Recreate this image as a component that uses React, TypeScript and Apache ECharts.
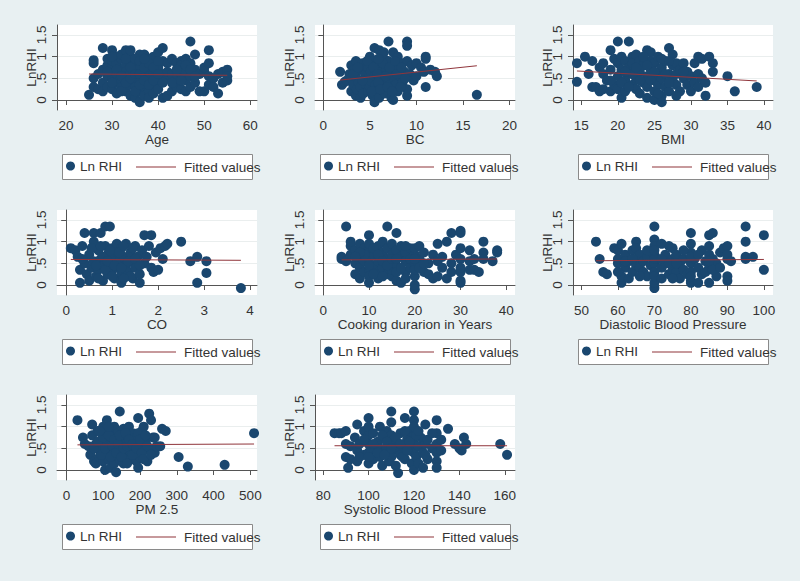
import React, { useEffect, useRef } from "react";
import * as echarts from "echarts";

const yTicks = [0, 0.5, 1, 1.5];
const yLabelText = ["0", ".5", "1", "1.5"];

const ageTicks = [20, 30, 40, 50, 60];
const bcTicks = [0, 5, 10, 15, 20];
const bmiTicks = [15, 20, 25, 30, 35, 40];
const coTicks = [0, 1, 2, 3, 4];
const cookTicks = [0, 10, 20, 30, 40];
const diaTicks = [50, 60, 70, 80, 90, 100];
const pmTicks = [0, 100, 200, 300, 400, 500];
const sysTicks = [80, 100, 120, 140, 160];

const ageData = [[25,0.12],[26,0.85],[26,0.92],[26,0.5],[26,0.3],[27,0.25],[27,0.6],[28,1.2],[28,0.7],[28,0.4],[28,0.2],[29,0.55],[29,0.8],[29,0.3],[29,0.95],[30,1.15],[30,0.75],[30,0.5],[30,0.25],[30,0.9],[31,1.0],[31,0.6],[31,0.4],[31,0.15],[31,0.85],[32,0.95],[32,0.7],[32,0.45],[32,0.3],[32,1.05],[33,1.15],[33,0.8],[33,0.55],[33,0.2],[33,0.65],[34,1.0],[34,0.6],[34,0.35],[34,0.1],[34,0.85],[35,0.05],[35,0.9],[35,0.5],[35,0.3],[35,0.7],[36,-0.05],[36,1.05],[36,0.75],[36,0.45],[36,0.2],[37,0.85],[37,0.6],[37,0.3],[37,0.1],[37,1.05],[38,0.95],[38,0.5],[38,0.2],[38,0.7],[38,0.05],[39,0.85],[39,0.6],[39,0.35],[39,0.15],[39,1.0],[40,1.1],[40,0.75],[40,0.45],[40,0.25],[41,1.2],[41,0.05],[41,0.6],[41,0.9],[42,0.1],[42,0.5],[42,0.85],[42,0.65],[43,0.2],[43,0.6],[43,0.95],[44,0.85],[44,0.5],[44,0.3],[45,0.9],[45,0.6],[45,0.25],[45,0.8],[46,0.95],[46,0.45],[46,0.2],[46,0.65],[47,1.35],[47,0.85],[47,0.55],[47,0.3],[48,1.05],[48,0.7],[48,0.4],[49,0.2],[49,0.6],[50,0.2],[50,0.65],[50,0.75],[51,1.15],[51,0.85],[51,0.35],[51,0.55],[52,0.5],[52,0.3],[53,0.15],[53,0.6],[54,0.4],[54,0.65],[55,0.7],[55,0.45],[55,0.55],
  [29,0.65],[30,0.4],[31,0.7],[32,0.2],[32,0.55],[33,0.4],[33,0.95],[34,0.5],[34,0.75],[35,0.2],[35,0.6],[35,0.95],[36,0.6],[36,0.35],[36,0.9],[37,0.45],[37,0.75],[38,0.35],[38,0.85],[39,0.45],[39,0.75],[40,0.6],[40,0.9],[41,0.4],[43,0.4],[44,0.7],[45,0.45],[46,0.8],[47,0.7],[48,0.55],[30,1.0],[34,1.15],[37,0.95]];

const bcData = [[1.8,0.65],[2,0.35],[2.3,0.42],[2.5,0.45],[2.8,0.6],[3,0.8],[3,0.2],[3,0.5],[3.2,0.35],[3.3,0.7],[3.5,0.9],[3.5,0.1],[3.5,0.55],[3.6,0.25],[3.8,0.4],[4,0.05],[4,0.7],[4,0.3],[4.2,0.85],[4.3,0.15],[4.5,0.5],[4.5,0.6],[4.6,0.35],[4.8,0.75],[4.8,0.2],[5,1.0],[5,0.3],[5,0.45],[5.1,0.65],[5.3,0.9],[5.3,0.1],[5.5,1.2],[5.5,-0.05],[5.5,0.55],[5.6,0.35],[5.7,0.8],[5.8,0.2],[6,1.15],[6,0.8],[6,0.05],[6,0.5],[6.2,0.65],[6.3,0.3],[6.5,1.1],[6.5,0.95],[6.5,0.45],[6.6,0.15],[6.8,0.7],[7,1.35],[7,0.9],[7,0.4],[7,0.6],[7.2,0.25],[7.3,0.05],[7.5,1.1],[7.5,0.0],[7.5,0.75],[7.6,0.5],[7.8,0.35],[8,1.0],[8,0.7],[8,0.2],[8.2,0.55],[8.5,0.85],[8.5,0.4],[8.7,0.65],[9,1.35],[9,1.25],[9,0.1],[9,0.25],[9,0.9],[9.3,0.6],[9.5,0.8],[9.7,0.45],[10,0.55],[10,0.85],[10.5,0.75],[10.8,0.65],[11,1.0],[11,0.95],[11,0.3],[11.5,0.7],[12,0.65],[12.2,0.55],[16.5,0.12],
  [3.2,0.6],[3.7,0.75],[4.2,0.45],[4.7,0.9],[5.2,0.2],[5.4,0.75],[5.8,0.6],[5.9,0.4],[6.1,0.25],[6.4,0.85],[6.7,0.55],[6.9,0.3],[7.1,0.75],[7.4,0.2],[7.7,0.9],[7.9,0.6],[8.3,0.3],[8.4,0.75],[8.8,0.5],[6.3,1.05],[5.9,0.95]];

const bmiData = [[14.4,0.85],[14.4,0.42],[15.5,1.0],[16,0.6],[16.5,0.9],[16.5,0.3],[17,0.3],[17.5,0.2],[17.5,0.75],[18,0.85],[18,0.25],[18,0.6],[18.5,0.45],[19,1.15],[19,0.2],[19,0.7],[19.5,0.95],[19.5,0.35],[20,1.35],[20,0.85],[20,0.55],[20,0.25],[20.5,0.05],[20.5,1.0],[20.5,0.7],[21,0.9],[21,0.45],[21,0.2],[21.5,1.35],[21.5,0.75],[21.5,0.6],[22,1.0],[22,0.35],[22,0.85],[22.5,1.05],[22.5,0.5],[22.5,0.25],[23,0.15],[23,0.9],[23,0.65],[23.5,0.4],[23.5,0.8],[24,1.15],[24,0.55],[24,0.3],[24,0.05],[24.5,1.1],[24.5,0.9],[24.5,0.7],[25,0.0],[25,0.45],[25,0.2],[25,0.85],[25.5,1.0],[25.5,0.6],[25.5,0.35],[26,-0.05],[26,0.1],[26,0.75],[26,0.5],[26.5,0.9],[26.5,0.3],[27,1.2],[27,0.6],[27,0.2],[27.5,1.05],[27.5,0.45],[27.5,0.8],[28,0.85],[28,0.35],[28,0.6],[28.5,0.7],[28.5,0.2],[29,0.85],[29,0.5],[29.5,0.35],[29.5,0.65],[30,0.2],[30,0.55],[30.5,0.85],[30.5,0.4],[31,1.0],[31,0.3],[31,0.6],[31.5,0.95],[31.5,0.5],[32,0.1],[32,0.4],[32.5,1.0],[33,0.85],[33,0.65],[35,0.55],[36,0.2],[39,0.3],
  [19,0.45],[20.5,0.4],[21.5,0.3],[22,0.6],[23,0.45],[23.5,1.0],[24,0.8],[24.5,0.45],[25,0.65],[25.5,0.15],[26,0.95],[26.5,0.6],[27,0.4],[27,0.9],[28,0.1],[29,0.65],[22.5,0.75],[21,0.65]];

const coData = [[0.1,0.85],[0.2,0.8],[0.25,0.65],[0.3,0.05],[0.3,0.35],[0.35,0.9],[0.4,1.2],[0.4,0.5],[0.45,0.25],[0.5,0.1],[0.5,0.7],[0.55,0.4],[0.6,1.2],[0.6,1.0],[0.6,0.55],[0.65,0.2],[0.7,0.8],[0.7,0.35],[0.75,1.2],[0.75,0.6],[0.8,0.1],[0.8,0.45],[0.85,1.35],[0.85,0.9],[0.9,0.25],[0.9,0.7],[0.95,1.35],[0.95,0.5],[1.0,0.85],[1.0,0.35],[1.0,0.6],[1.05,0.15],[1.1,0.95],[1.1,0.75],[1.1,0.4],[1.15,0.55],[1.2,0.05],[1.2,0.85],[1.2,0.25],[1.25,0.65],[1.3,0.45],[1.3,0.95],[1.35,0.3],[1.4,0.75],[1.4,0.55],[1.45,0.15],[1.5,0.9],[1.5,0.4],[1.55,0.65],[1.6,0.05],[1.6,0.25],[1.65,0.8],[1.7,1.15],[1.7,0.5],[1.75,0.65],[1.8,0.9],[1.85,1.15],[1.85,0.4],[1.9,0.3],[1.95,0.75],[2.0,0.35],[2.05,0.85],[2.1,0.6],[2.15,0.9],[2.2,0.95],[2.5,1.0],[2.7,0.55],[2.85,0.65],[2.85,0.05],[3.05,0.55],[3.05,0.28],[3.8,-0.07],
  [0.35,0.6],[0.55,0.85],[0.65,0.45],[0.7,0.15],[0.8,0.65],[0.85,0.35],[0.9,0.55],[0.95,0.8],[1.0,0.2],[1.05,0.45],[1.15,0.75],[1.2,0.4],[1.25,0.9],[1.35,0.55],[1.4,0.2],[1.45,0.85],[1.5,0.6],[1.6,0.45],[1.25,0.15],[0.75,0.9]];

const cookData = [[4,0.6],[4,0.65],[5,1.35],[5,0.55],[6,0.9],[6,1.0],[6,0.7],[7,0.25],[7,0.5],[7,0.8],[8,0.15],[8,0.4],[8,0.95],[8,0.65],[9,0.55],[9,0.3],[9,0.85],[10,1.15],[10,0.05],[10,0.35],[10,0.6],[10,0.8],[10,0.2],[10,0.95],[11,0.45],[11,0.7],[12,0.3],[12,0.9],[12,0.55],[12,0.15],[13,0.75],[13,0.4],[13,1.0],[14,1.35],[14,0.6],[14,0.25],[14,0.85],[15,0.95],[15,0.5],[15,0.2],[15,0.7],[15,0.35],[16,1.2],[16,0.1],[16,0.8],[16,0.45],[17,0.05],[17,0.65],[17,0.9],[18,0.3],[18,0.75],[18,0.55],[19,0.85],[19,0.4],[20,-0.1],[20,0.0],[20,0.2],[20,0.5],[20,0.7],[20,0.85],[20,0.35],[21,0.9],[21,0.6],[22,0.75],[22,0.3],[23,0.5],[23,0.25],[24,0.7],[24,0.15],[25,0.95],[25,0.55],[25,0.2],[26,0.65],[26,0.4],[27,1.0],[27,0.15],[28,1.2],[28,0.5],[28,0.3],[29,0.7],[30,1.25],[30,1.2],[30,0.05],[30,0.1],[30,0.3],[30,0.6],[30,0.85],[30,0.4],[32,0.55],[32,0.8],[32,0.35],[33,0.35],[33,0.6],[34,0.3],[35,1.0],[35,0.75],[35,0.6],[37,0.55],[38,0.8],[38,0.75],
  [9,0.7],[10,0.45],[11,0.25],[11,0.85],[12,0.7],[13,0.55],[13,0.2],[14,0.45],[15,0.6],[16,0.3],[16,0.6],[17,0.4],[18,0.9],[18,0.15],[19,0.6],[20,0.6],[21,0.4],[22,0.5],[8,0.75],[7,0.65]];

const diaData = [[54,1.0],[55,0.6],[56,0.3],[57,0.25],[59,0.85],[60,0.8],[60,0.5],[60,0.6],[61,0.95],[61,0.05],[61,0.2],[62,0.7],[62,0.4],[63,0.15],[63,0.55],[64,0.8],[64,0.3],[65,1.0],[65,0.85],[65,0.6],[65,0.45],[66,0.4],[66,0.7],[67,0.3],[67,0.55],[68,0.2],[68,0.65],[69,0.45],[70,1.35],[70,1.05],[70,0.9],[70,-0.07],[70,0.05],[70,0.7],[70,0.5],[70,0.3],[70,0.2],[71,0.6],[72,0.95],[72,0.4],[72,0.15],[73,0.7],[73,0.5],[74,0.9],[74,0.25],[75,0.85],[75,0.6],[75,0.35],[76,0.3],[76,0.7],[77,0.5],[77,0.15],[78,0.6],[78,0.35],[79,0.25],[80,1.2],[80,0.95],[80,0.1],[80,0.05],[80,0.75],[80,0.5],[80,0.3],[81,0.6],[82,0.05],[82,0.4],[83,0.8],[83,0.25],[84,0.55],[85,1.15],[85,0.9],[85,0.05],[85,0.7],[85,0.4],[86,1.2],[86,0.6],[87,0.5],[87,0.2],[88,0.75],[89,0.85],[90,0.9],[90,0.2],[90,0.1],[90,0.6],[90,0.7],[91,0.55],[95,1.35],[95,1.0],[95,0.6],[95,0.65],[97,0.65],[100,1.15],[100,0.35],
  [60,0.3],[62,0.55],[64,0.6],[66,0.2],[68,0.8],[70,0.6],[70,0.8],[72,0.6],[74,0.5],[75,0.15],[76,0.5],[78,0.8],[80,0.65],[80,0.2],[82,0.7],[84,0.3],[85,0.55],[86,0.35],[88,0.4]];

const pmData = [[30,1.15],[45,0.75],[50,0.6],[60,0.55],[65,0.35],[70,1.05],[70,0.8],[75,0.2],[80,0.15],[80,0.6],[85,0.9],[90,0.45],[90,0.3],[95,0.7],[100,1.0],[100,0.55],[100,0.2],[105,0.0],[105,0.85],[110,1.15],[110,0.4],[110,0.65],[115,0.25],[120,0.05],[120,0.9],[120,0.55],[125,0.75],[125,0.35],[130,1.0],[130,0.15],[135,-0.05],[135,0.6],[140,0.85],[140,0.4],[145,1.35],[145,0.25],[150,0.7],[150,0.5],[155,0.95],[155,0.15],[160,0.6],[160,0.35],[165,0.8],[170,1.0],[170,0.45],[175,0.25],[175,0.65],[180,0.85],[185,0.4],[185,0.55],[190,0.2],[190,0.75],[195,1.2],[195,0.05],[200,0.6],[200,0.3],[205,0.9],[210,1.0],[210,0.45],[215,0.65],[220,0.2],[225,1.3],[225,0.5],[230,1.15],[235,0.75],[240,0.75],[240,0.4],[245,0.55],[255,0.55],[260,0.95],[270,0.9],[305,0.3],[330,0.08],[430,0.12],[510,0.85],
  [75,0.5],[85,0.65],[95,0.35],[100,0.75],[105,0.5],[115,0.8],[120,0.3],[125,0.55],[130,0.7],[135,0.4],[140,0.6],[145,0.8],[150,0.3],[155,0.5],[160,0.85],[165,0.15],[165,0.55],[170,0.7],[180,0.35],[180,0.6],[190,0.5],[195,0.85],[200,0.7],[205,0.4],[210,0.25],[215,0.8],[220,0.55],[230,0.35],[115,1.0],[90,0.9]];

const sysData = [[85,0.85],[87,0.85],[88,0.85],[90,0.9],[90,0.3],[90,0.6],[91,0.05],[92,0.55],[92,0.25],[94,0.75],[95,0.2],[95,1.05],[95,0.45],[96,0.6],[98,0.9],[98,0.35],[100,1.2],[100,0.8],[100,0.4],[100,0.6],[100,0.15],[100,1.0],[101,0.5],[102,0.25],[102,0.85],[104,0.65],[105,1.0],[105,0.3],[105,0.5],[106,0.1],[107,0.75],[108,0.5],[108,0.9],[109,0.2],[110,1.35],[110,1.1],[110,0.8],[110,0.6],[110,0.4],[110,0.3],[111,0.7],[112,0.1],[112,0.5],[113,-0.07],[114,0.85],[114,0.35],[115,0.55],[116,1.2],[116,0.25],[117,0.7],[118,0.9],[118,0.45],[119,0.15],[120,1.35],[120,1.15],[120,0.0],[120,0.6],[120,0.8],[120,0.4],[120,1.0],[121,0.3],[122,0.15],[122,0.55],[123,0.75],[124,0.05],[124,0.4],[125,1.05],[125,0.6],[126,0.25],[128,0.5],[130,1.15],[130,0.85],[130,0.2],[130,0.05],[130,0.6],[130,0.4],[132,0.7],[132,0.45],[135,0.95],[138,0.6],[140,0.5],[141,0.45],[142,0.75],[143,0.6],[158,0.6],[161,0.35],
  [96,0.3],[98,0.7],[102,0.6],[104,0.4],[106,0.8],[107,0.35],[108,0.65],[112,0.75],[114,0.6],[115,0.3],[116,0.9],[117,0.45],[118,0.65],[121,0.8],[122,0.9],[125,0.35],[126,0.7],[128,0.85],[110,0.5],[100,0.3]];

const ageFit = [[25,0.6],[55,0.57]];
const bcFit = [[1.8,0.46],[16.5,0.79]];
const bmiFit = [[14.4,0.67],[39,0.44]];
const coFit = [[0.1,0.59],[3.8,0.57]];
const cookFit = [[4,0.58],[38,0.6]];
const diaFit = [[54,0.56],[100,0.59]];
const pmFit = [[30,0.58],[510,0.6]];
const sysFit = [[85,0.56],[161,0.56]];

const panels = [
  { title: "Age", ticks: ageTicks, min: 18.05, max: 61.45, data: ageData, fit: ageFit },
  { title: "BC", ticks: bcTicks, min: -0.9, max: 20.6, data: bcData, fit: bcFit },
  { title: "BMI", ticks: bmiTicks, min: 13.86, max: 41.23, data: bmiData, fit: bmiFit },
  { title: "CO", ticks: coTicks, min: -0.2, max: 4.15, data: coData, fit: coFit },
  { title: "Cooking durarion in Years", ticks: cookTicks, min: -1.8, max: 41.9, data: cookData, fit: cookFit },
  { title: "Diastolic Blood Pressure", ticks: diaTicks, min: 47.7, max: 102.5, data: diaData, fit: diaFit },
  { title: "PM 2.5", ticks: pmTicks, min: -25.6, max: 518, data: pmData, fit: pmFit },
  { title: "Systolic Blood Pressure", ticks: sysTicks, min: 76.4, max: 164.5, data: sysData, fit: sysFit },
];

const colLefts = [57, 315, 573];
const rowTops = [25, 210, 395];
const PW = 200;
const PH = 85;

const FONT = "'Liberation Sans', Arial, sans-serif";
const TXT = "#333";
const NAVY = "#1a476f";
const MAROON = "#90353b";

export default function App() {
  const ref = useRef<HTMLDivElement>(null);
  useEffect(() => {
    document.body.style.margin = "0";
    const chart = echarts.init(ref.current!, undefined, { renderer: "svg" });
    const grid: any[] = [];
    const xAxis: any[] = [];
    const yAxis: any[] = [];
    const series: any[] = [];
    const legend: any[] = [];
    const graphic: any[] = [];
    panels.forEach((p, i) => {
      const left = colLefts[i % 3];
      const top = rowTops[Math.floor(i / 3)];
      grid.push({ left, top, width: PW, height: PH, show: true, backgroundColor: "#ffffff", borderWidth: 0 });
      xAxis.push({
        type: "value", gridIndex: i, min: p.min, max: p.max,
        name: p.title, nameLocation: "middle", nameGap: 22, nameMoveOverlap: false,
        nameTextStyle: { color: TXT, fontSize: 13.5, fontFamily: FONT },
        axisLine: { show: true, lineStyle: { color: "#555" } },
        axisTick: { show: true, length: 5, customValues: p.ticks, lineStyle: { color: "#555" } },
        axisLabel: { customValues: p.ticks, margin: 8, color: TXT, fontSize: 13.5, fontFamily: FONT },
        splitLine: { show: false },
      });
      yAxis.push({
        type: "value", gridIndex: i, min: -0.23, max: 1.73,
        name: "LnRHI", nameLocation: "middle", nameGap: 19, nameRotate: 90, nameMoveOverlap: false,
        nameTextStyle: { color: TXT, fontSize: 13.5, fontFamily: FONT },
        axisLine: { show: true, lineStyle: { color: "#555" } },
        axisTick: { show: true, length: 5, customValues: yTicks, lineStyle: { color: "#555" } },
        axisLabel: {
          customValues: yTicks, rotate: 90, margin: 9, color: TXT, fontSize: 13.5, fontFamily: FONT,
          formatter: (v: number) => yLabelText[yTicks.indexOf(v)] ?? String(v),
        },
        splitLine: { show: true, lineStyle: { color: "#eaeeee", width: 1 } },
      });
      series.push({
        type: "scatter", name: "Ln RHI", xAxisIndex: i, yAxisIndex: i, data: p.data,
        symbol: "circle", symbolSize: 10, itemStyle: { color: NAVY, opacity: 1 }, z: 2,
      });
      series.push({
        type: "line", name: "Fitted values", xAxisIndex: i, yAxisIndex: i, data: p.fit,
        symbol: "none", showSymbol: false, lineStyle: { color: MAROON, width: 1 }, itemStyle: { color: MAROON }, z: 3,
      });
      const boxLeft = left + 5;
      const boxTop = top + 129;
      graphic.push({
        type: "rect", z: 0,
        shape: { x: boxLeft + 0.5, y: boxTop + 0.5, width: 190, height: 25 },
        style: { fill: "#ffffff", stroke: "#8a8a8a", lineWidth: 1 },
      });
      legend.push({
        data: [{ name: "Ln RHI", icon: "circle" }], left: boxLeft + 4, top: boxTop + 5, padding: 0,
        itemWidth: 9, itemHeight: 9, selectedMode: false,
        textStyle: { color: TXT, fontSize: 13.5, fontFamily: FONT },
      });
      legend.push({
        data: [{ name: "Fitted values", icon: "rect" }], left: boxLeft + 74, top: boxTop + 6, padding: 0,
        itemWidth: 40, itemHeight: 1, selectedMode: false,
        textStyle: { color: TXT, fontSize: 13.5, fontFamily: FONT, padding: [0, 0, 0, 3] },
      });
    });
    chart.setOption({
      animation: false,
      backgroundColor: "#e8f0f2",
      textStyle: { fontFamily: FONT },
      grid, xAxis, yAxis, series, legend, graphic,
    });
    return () => chart.dispose();
  }, []);
  return <div ref={ref} style={{ width: 800, height: 581 }} />;
}
